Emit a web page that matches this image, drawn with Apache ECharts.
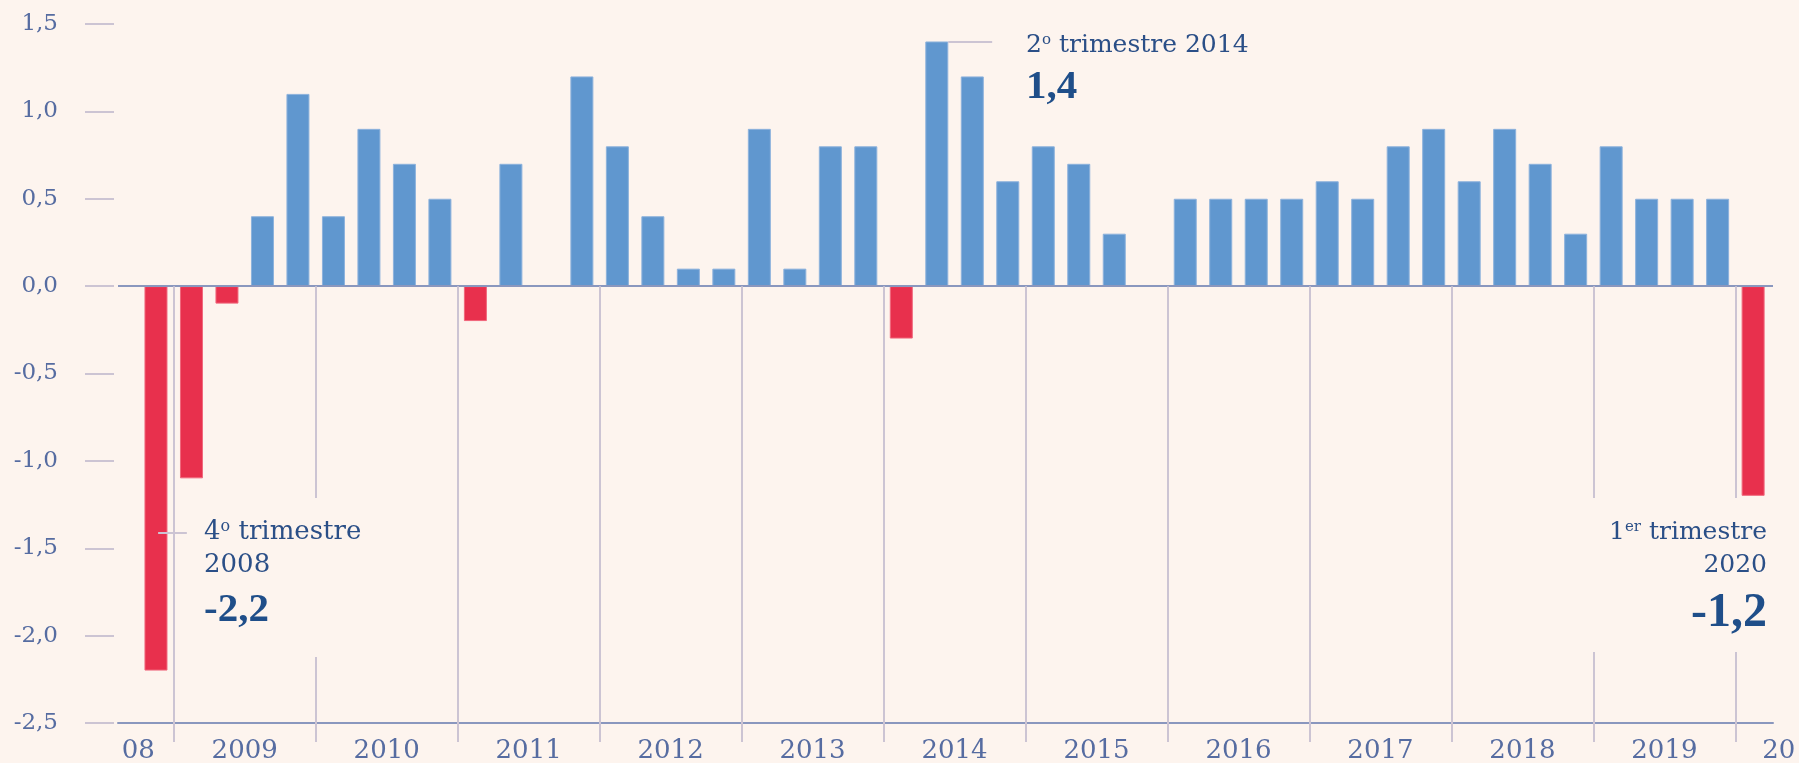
<!DOCTYPE html>
<html>
<head>
<meta charset="utf-8">
<title>PIB trimestral</title>
<script src="https://cdn.jsdelivr.net/npm/echarts@6/dist/echarts.min.js"></script>
<style>
html, body { margin: 0; padding: 0; background: #fdf4ee; }
#chart { width: 1799px; height: 763px; }
</style>
</head>
<body>
<div id="chart"></div>
<script>
// trimestres: del 4º trimestre 2008 al 1er trimestre 2020
const quarters = [
  '2008-T4',
  '2009-T1', '2009-T2', '2009-T3', '2009-T4',
  '2010-T1', '2010-T2', '2010-T3', '2010-T4',
  '2011-T1', '2011-T2', '2011-T3', '2011-T4',
  '2012-T1', '2012-T2', '2012-T3', '2012-T4',
  '2013-T1', '2013-T2', '2013-T3', '2013-T4',
  '2014-T1', '2014-T2', '2014-T3', '2014-T4',
  '2015-T1', '2015-T2', '2015-T3', '2015-T4',
  '2016-T1', '2016-T2', '2016-T3', '2016-T4',
  '2017-T1', '2017-T2', '2017-T3', '2017-T4',
  '2018-T1', '2018-T2', '2018-T3', '2018-T4',
  '2019-T1', '2019-T2', '2019-T3', '2019-T4',
  '2020-T1'
]
// variación trimestral (%)
const values = [
  -2.2,
  -1.1, -0.1, 0.4, 1.1,
  0.4, 0.9, 0.7, 0.5,
  -0.2, 0.7, 0.0, 1.2,
  0.8, 0.4, 0.1, 0.1,
  0.9, 0.1, 0.8, 0.8,
  -0.3, 1.4, 1.2, 0.6,
  0.8, 0.7, 0.3, 0.0,
  0.5, 0.5, 0.5, 0.5,
  0.6, 0.5, 0.8, 0.9,
  0.6, 0.9, 0.7, 0.3,
  0.8, 0.5, 0.5, 0.5,
  -1.2
]
const yearLabels = ['08', '2009', '2010', '2011', '2012', '2013', '2014', '2015', '2016', '2017', '2018', '2019', '20']
const yMin = -2.5
const yMax = 1.5

const BG = '#fdf4ee'
const BLUE = '#6097cf'
const BLUE_EDGE = '#8db2dc'
const RED = '#e8304d'
const RED_EDGE = '#f0677c'
const AXIS = '#8a97be'
const GRID = '#ccc4d3'
const LABEL = '#566ca1'
const ANNO = '#2b4f87'
const ANNO_BOLD = '#1f4e89'
const SERIF = 'DejaVu Serif'
const BOLD = 'Liberation Serif'

const yearOf = q => q.slice(0, 4)

// separadores entre años
const bounds = []
quarters.forEach((q, i) => {
  if (i > 0 && yearOf(q) !== yearOf(quarters[i - 1])) bounds.push(i - 0.5)
})

// posición de las etiquetas de año
const labelPos = []
const labelText = {}
bounds.forEach((b, k) => {
  if (k === 0) {
    labelPos.push(b - 1)
    labelText[b - 1] = yearLabels[0]
  }
  if (k < bounds.length - 1) {
    const c = (b + bounds[k + 1]) / 2
    labelPos.push(c)
    labelText[c] = yearLabels[k + 1]
  } else {
    labelPos.push(b + 1)
    labelText[b + 1] = '{edge|' + yearLabels[k + 1] + '}'
  }
})

const fmt = v => v.toFixed(1).replace('.', ',')

let chart = null
const firstInit = () => {
  chart = echarts.init(document.getElementById('chart'))
  chart.setOption({
    backgroundColor: BG,
    animation: false,
    textStyle: { fontFamily: SERIF },
    grid: {
      left: 118,
      right: 26,
      top: 24,
      bottom: 40,
      outerBoundsMode: 'none'
    },
    xAxis: {
      type: 'value',
      min: -1.07,
      max: quarters.length - 0.44,
      position: 'bottom',
      splitLine: { show: false },
      axisLine: {
        show: true,
        onZero: false,
        lineStyle: { color: AXIS, width: 2 }
      },
      axisTick: {
        show: true,
        customValues: bounds,
        length: 19,
        lineStyle: { color: GRID, width: 2 }
      },
      axisLabel: {
        customValues: labelPos,
        formatter: v => labelText[v],
        margin: 15,
        fontSize: 26,
        fontFamily: SERIF,
        color: LABEL,
        rich: {
          edge: { fontSize: 26, fontFamily: SERIF, color: LABEL, padding: [0, 0, 0, 16] }
        }
      }
    },
    yAxis: {
      type: 'value',
      min: yMin,
      max: yMax,
      interval: 0.5,
      offset: 4,
      splitLine: { show: false },
      axisLine: { show: false, onZero: false },
      axisTick: {
        show: true,
        inside: false,
        length: 29,
        lineStyle: { color: GRID, width: 2 }
      },
      axisLabel: {
        margin: 56,
        fontSize: 23,
        fontFamily: SERIF,
        color: LABEL,
        formatter: fmt
      }
    },
    series: [
      {
        type: 'bar',
        barWidth: 23,
        data: values.map((v, i) => ({
          value: [i, v],
          itemStyle: {
            color: v < 0 ? RED : BLUE,
            borderColor: v < 0 ? RED_EDGE : BLUE_EDGE,
            borderWidth: 1
          }
        })),
        markLine: {
          silent: true,
          symbol: 'none',
          label: { show: false },
          emphasis: { disabled: true },
          data: [
            { yAxis: 0, lineStyle: { color: AXIS, width: 2, type: 'solid' } },
            ...bounds.map(b => [
              { coord: [b, 0], lineStyle: { color: GRID, width: 2, type: 'solid' } },
              { coord: [b, yMin] }
            ]),
            // líneas guía de las anotaciones
            [
              { coord: [22.32, 1.4], lineStyle: { color: GRID, width: 2, type: 'solid' } },
              { coord: [23.56, 1.4] }
            ],
            [
              { coord: [0.06, -1.41], lineStyle: { color: GRID, width: 2, type: 'solid' } },
              { coord: [0.87, -1.41] }
            ]
          ]
        }
      }
    ],
    graphic: [
      // fondos que tapan los separadores bajo las anotaciones
      { type: 'rect', z: 50, silent: true, shape: { x: 196, y: 498, width: 172, height: 159 }, style: { fill: BG } },
      { type: 'rect', z: 50, silent: true, shape: { x: 1586, y: 498, width: 188, height: 154 }, style: { fill: BG } },
      {
        type: 'text', z: 60, x: 1026, y: 45.5,
        style: {
          text: '2{sup|o} trimestre 2014',
          fontSize: 25, fontFamily: SERIF, lineHeight: 26, fill: ANNO,
          verticalAlign: 'middle',
          rich: { sup: { fontSize: 15, fontFamily: SERIF, lineHeight: 11, verticalAlign: 'top', fill: ANNO } }
        }
      },
      {
        type: 'text', z: 60, x: 1026, y: 87.5,
        style: { text: fmt(values[22]), fontSize: 41, fontWeight: 'bold', fontFamily: BOLD, fill: ANNO_BOLD, verticalAlign: 'middle' }
      },
      {
        type: 'text', z: 60, x: 204, y: 532.5,
        style: {
          text: '4{sup|o} trimestre',
          fontSize: 26, fontFamily: SERIF, lineHeight: 27, fill: ANNO,
          verticalAlign: 'middle',
          rich: { sup: { fontSize: 16, fontFamily: SERIF, lineHeight: 11, verticalAlign: 'top', fill: ANNO } }
        }
      },
      {
        type: 'text', z: 60, x: 204, y: 565.5,
        style: { text: '2008', fontSize: 26, fontFamily: SERIF, fill: ANNO, verticalAlign: 'middle' }
      },
      {
        type: 'text', z: 60, x: 204, y: 610.5,
        style: { text: fmt(values[0]), fontSize: 41, fontWeight: 'bold', fontFamily: BOLD, fill: ANNO_BOLD, verticalAlign: 'middle' }
      },
      {
        type: 'text', z: 60, x: 1767, y: 532.5,
        style: {
          text: '1{sup|er} trimestre',
          fontSize: 25, fontFamily: SERIF, lineHeight: 26, fill: ANNO,
          align: 'right', verticalAlign: 'middle',
          rich: { sup: { fontSize: 15, fontFamily: SERIF, lineHeight: 11, verticalAlign: 'top', fill: ANNO } }
        }
      },
      {
        type: 'text', z: 60, x: 1767, y: 565.5,
        style: { text: '2020', fontSize: 25, fontFamily: SERIF, fill: ANNO, align: 'right', verticalAlign: 'middle' }
      },
      {
        type: 'text', z: 60, x: 1767, y: 613.4,
        style: { text: fmt(values[values.length - 1]), fontSize: 48, fontWeight: 'bold', fontFamily: BOLD, fill: ANNO_BOLD, align: 'right', verticalAlign: 'middle' }
      }
    ]
  })
}

firstInit()
window.addEventListener('resize', () => {
  if (chart) chart.resize()
})
</script>
</body>
</html>
